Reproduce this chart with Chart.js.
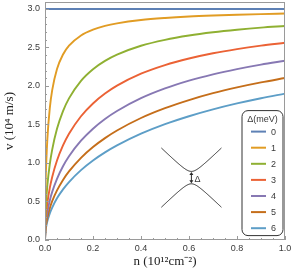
<!DOCTYPE html>
<html>
<head>
<meta charset="utf-8">
<script src="https://cdn.jsdelivr.net/npm/chart.js@4/dist/chart.umd.min.js"></script>
<style>
  html, body { margin: 0; padding: 0; background: #fff; }
  #wrap { width: 291px; height: 269px; }
</style>
</head>
<body>
<div id="wrap"><canvas id="c" width="291" height="269"></canvas></div>
<script>
// ---- data ----
const nValues = [0, 0.002, 0.005, 0.01, 0.02, 0.03, 0.05, 0.075, 0.1, 0.15, 0.2, 0.25, 0.3, 0.4, 0.5, 0.6, 0.7, 0.8, 0.9, 1.0];
const gapLabels = ["0", "1", "2", "3", "4", "5", "6"];
const v0 = [3.0, 3.0, 3.0, 3.0, 3.0, 3.0, 3.0, 3.0, 3.0, 3.0, 3.0, 3.0, 3.0, 3.0, 3.0, 3.0, 3.0, 3.0, 3.0, 3.0];
const v1 = [0, 0.644, 0.985, 1.323, 1.712, 1.945, 2.219, 2.408, 2.523, 2.656, 2.731, 2.779, 2.812, 2.856, 2.883, 2.902, 2.915, 2.925, 2.933, 2.940];
const v2 = [0, 0.327, 0.513, 0.715, 0.984, 1.174, 1.443, 1.674, 1.839, 2.067, 2.218, 2.326, 2.407, 2.522, 2.599, 2.655, 2.697, 2.730, 2.757, 2.778];
const v3 = [0, 0.219, 0.345, 0.485, 0.677, 0.819, 1.032, 1.228, 1.380, 1.607, 1.773, 1.901, 2.004, 2.159, 2.271, 2.356, 2.424, 2.478, 2.523, 2.561];
const v4 = [0, 0.165, 0.260, 0.366, 0.514, 0.625, 0.795, 0.957, 1.087, 1.289, 1.445, 1.571, 1.675, 1.841, 1.968, 2.069, 2.151, 2.219, 2.277, 2.327];
const v5 = [0, 0.132, 0.208, 0.293, 0.413, 0.504, 0.644, 0.780, 0.890, 1.067, 1.207, 1.323, 1.422, 1.584, 1.712, 1.817, 1.906, 1.981, 2.046, 2.103];
const v6 = [0, 0.110, 0.173, 0.245, 0.345, 0.421, 0.541, 0.657, 0.752, 0.907, 1.032, 1.137, 1.228, 1.380, 1.504, 1.607, 1.696, 1.773, 1.841, 1.901];
const xTicks = [0, 0.2, 0.4, 0.6, 0.8, 1.0];
const yTicks = [0, 0.5, 1.0, 1.5, 2.0, 2.5, 3.0];
const legendTitle = "Δ(meV)";
const xTitle = "n (10¹²cm⁻²)";
const yTitle = "v (10⁴ m/s)";
// ---------------------------------------

const series = [v0, v1, v2, v3, v4, v5, v6];
const colors = ["#5E81B5", "#E19C24", "#8FB032", "#EB6235", "#8778B3", "#C56E1A", "#5D9EC7"];

const datasets = series.map((vals, i) => ({
  label: gapLabels[i],
  data: nValues.map((n, k) => ({ x: n, y: vals[k] })),
  borderColor: colors[i],
  backgroundColor: colors[i],
  borderWidth: 1.9,
  pointRadius: 0,
  cubicInterpolationMode: 'monotone',
  fill: false
}));

const FRAME = "#9a9a9a";
const TXT = "#3a3a3a";

const framePlugin = {
  id: 'frame',
  afterDatasetsDraw(chart) {
    const ctx = chart.ctx, a = chart.chartArea;
    const xs = chart.scales.x, ys = chart.scales.y;
    ctx.save();
    ctx.strokeStyle = FRAME;
    ctx.lineWidth = 1;
    ctx.strokeRect(Math.round(a.left) + 0.5, Math.round(a.top) + 0.5,
                   Math.round(a.right - a.left) - 1, Math.round(a.bottom - a.top) - 1);
    // inward ticks
    ctx.beginPath();
    for (let k = 0; k <= 20; k++) {
      const v = k * 0.05;
      const px = Math.round(xs.getPixelForValue(v)) + 0.5;
      const len = (k % 4 === 0) ? 4 : 2;
      ctx.moveTo(px, a.bottom); ctx.lineTo(px, a.bottom - len);
    }
    for (let k = 0; k <= 31; k++) {
      const v = k * 0.1;
      const py = Math.round(ys.getPixelForValue(v)) + 0.5;
      if (py < a.top) continue;
      const len = (k % 5 === 0) ? 4 : 2;
      ctx.moveTo(a.left, py); ctx.lineTo(a.left + len, py);
    }
    ctx.stroke();

    // inset: gapped dispersion sketch
    const cx = xs.getPixelForValue(0.61);
    const cy = ys.getPixelForValue(0.81);
    const g = 6.2, half = 30, slope = 0.965;
    ctx.strokeStyle = "#2b2b2b";
    ctx.lineWidth = 1;
    for (const s of [-1, 1]) {
      ctx.beginPath();
      for (let d = -half; d <= half; d += 1) {
        const y = cy + s * Math.sqrt(g * g + (slope * d) * (slope * d));
        if (d === -half) ctx.moveTo(cx + d, y); else ctx.lineTo(cx + d, y);
      }
      ctx.stroke();
    }
    // double arrow
    const yTop = cy - g + 0.5, yBot = cy + g - 0.5;
    ctx.beginPath();
    ctx.moveTo(cx, yTop + 1); ctx.lineTo(cx, yBot - 1);
    ctx.stroke();
    ctx.fillStyle = "#2b2b2b";
    ctx.beginPath();
    ctx.moveTo(cx, yTop); ctx.lineTo(cx - 2, yTop + 3); ctx.lineTo(cx + 2, yTop + 3); ctx.closePath(); ctx.fill();
    ctx.beginPath();
    ctx.moveTo(cx, yBot); ctx.lineTo(cx - 2, yBot - 3); ctx.lineTo(cx + 2, yBot - 3); ctx.closePath(); ctx.fill();
    ctx.font = "9px 'Liberation Sans', Arial, sans-serif";
    ctx.textAlign = "left";
    ctx.textBaseline = "middle";
    ctx.fillStyle = TXT;
    ctx.fillText("Δ", cx + 3, cy + 1.5);

    // legend box
    const bx = a.right - 43, by = ys.getPixelForValue(1.68), bw = 41, bh = 125, r = 6;
    ctx.strokeStyle = "#333";
    ctx.lineWidth = 1;
    ctx.beginPath();
    ctx.moveTo(bx + r, by);
    ctx.lineTo(bx + bw - r, by); ctx.arcTo(bx + bw, by, bx + bw, by + r, r);
    ctx.lineTo(bx + bw, by + bh - r); ctx.arcTo(bx + bw, by + bh, bx + bw - r, by + bh, r);
    ctx.lineTo(bx + r, by + bh); ctx.arcTo(bx, by + bh, bx, by + bh - r, r);
    ctx.lineTo(bx, by + r); ctx.arcTo(bx, by, bx + r, by, r);
    ctx.closePath();
    ctx.fillStyle = "#fff";
    ctx.fill();
    ctx.stroke();
    ctx.fillStyle = TXT;
    ctx.textAlign = "center";
    ctx.font = "9px 'Liberation Sans', Arial, sans-serif";
    ctx.fillText(legendTitle, bx + bw / 2, by + 8.5);
    chart.data.datasets.forEach((ds, i) => {
      const yy = by + 21 + i * 16.1;
      ctx.strokeStyle = ds.borderColor;
      ctx.lineWidth = 2;
      ctx.beginPath();
      ctx.moveTo(bx + 9, yy); ctx.lineTo(bx + 24, yy);
      ctx.stroke();
      ctx.fillStyle = TXT;
      ctx.textAlign = "center";
      ctx.fillText(ds.label, bx + 31.5, yy + 0.5);
    });
    ctx.restore();
  }
};

new Chart(document.getElementById('c'), {
  type: 'line',
  data: { datasets },
  options: {
    responsive: false,
    animation: false,
    events: [],
    layout: { padding: { top: 2, right: 6, left: 0, bottom: 0 } },
    plugins: { legend: { display: false }, tooltip: { enabled: false } },
    scales: {
      x: {
        type: 'linear', min: 0, max: 1.0,
        grid: { display: false, drawTicks: false },
        border: { display: false },
        afterBuildTicks: s => { s.ticks = xTicks.map(v => ({ value: v })); },
        afterFit: s => { s.height = 29; s.paddingLeft = 0; s.paddingRight = 0; },
        ticks: {
          color: TXT, padding: 3, maxRotation: 0, autoSkip: false,
          font: { family: "'Liberation Sans', Arial, sans-serif", size: 9 },
          callback: v => Number(v).toFixed(1)
        },
        title: {
          display: true, text: xTitle, color: "#222",
          font: { family: "'Liberation Serif', 'Times New Roman', serif", size: 13 },
          padding: { top: 0, bottom: 0 }
        }
      },
      y: {
        type: 'linear', min: 0, max: 3.09,
        grid: { display: false, drawTicks: false },
        border: { display: false },
        afterBuildTicks: s => { s.ticks = yTicks.map(v => ({ value: v })); },
        afterFit: s => { s.width = 45; s.paddingTop = 0; s.paddingBottom = 0; },
        ticks: {
          color: TXT, padding: 5, autoSkip: false,
          font: { family: "'Liberation Sans', Arial, sans-serif", size: 9 },
          callback: v => Number(v).toFixed(1)
        },
        title: {
          display: true, text: yTitle, color: "#222",
          font: { family: "'Liberation Serif', 'Times New Roman', serif", size: 13 },
          padding: { top: 2, bottom: 0 }
        }
      }
    }
  },
  plugins: [framePlugin]
});
</script>
</body>
</html>
